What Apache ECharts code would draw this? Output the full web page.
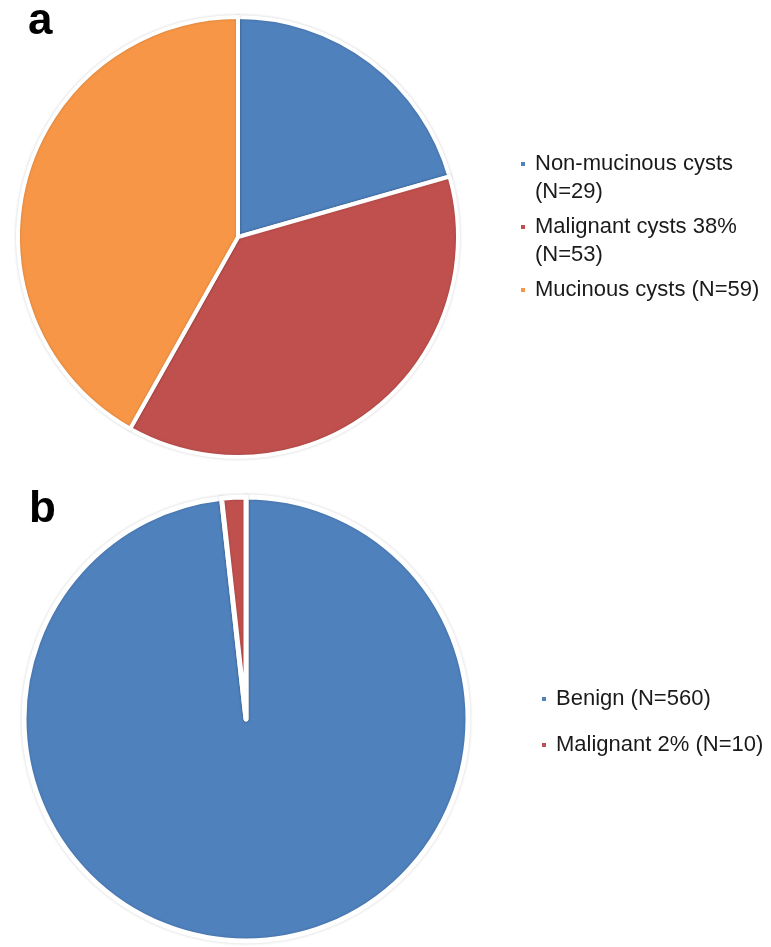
<!DOCTYPE html>
<html>
<head>
<meta charset="utf-8">
<script src="https://cdn.jsdelivr.net/npm/echarts@6/dist/echarts.min.js"></script>
<style>
html,body{margin:0;padding:0;background:#fff;}
#chart{width:771px;height:947px;}
</style>
</head>
<body>
<div id="chart"></div>
<script>
// Panel a
const categoriesA = ['Non-mucinous cysts\n(N=29)', 'Malignant cysts 38%\n(N=53)', 'Mucinous cysts (N=59)'];
const valuesA = [29, 53, 59];
const colorsA = ['#4F81BD', '#C0504D', '#F79646'];
// Panel b
const categoriesB = ['Benign (N=560)', 'Malignant 2% (N=10)'];
const valuesB = [560, 10];
const colorsB = ['#4F81BD', '#C0504D'];
const panelLabels = ['a', 'b'];

const FONT = '"Liberation Sans", Arial, Helvetica, sans-serif';

function makeRich(colors) {
  const rich = {
    g: { width: 10 },
    p: { width: 14 },
    t: { fontSize: 22, lineHeight: 28, color: '#1a1a1a', fontFamily: FONT }
  };
  colors.forEach((c, i) => { rich['m' + i] = { width: 4, height: 4, backgroundColor: c }; });
  return rich;
}
function makeFormatter(cats) {
  return function (name) {
    const idx = cats.indexOf(name);
    return name.split('\n').map((l, i) =>
      i === 0 ? '{m' + idx + '|}{g|}{t|' + l + '}' : '{p|}{t|' + l + '}'
    ).join('\n');
  };
}

const pieStyle = (bw) => ({
  borderColor: '#fff', borderWidth: bw,
  shadowBlur: 3, shadowColor: 'rgba(0,0,0,0.18)'
});

const chart = echarts.init(document.getElementById('chart'), null, { renderer: 'canvas' });
chart.setOption({
  animation: false,
  backgroundColor: '#fff',
  title: [
    { text: panelLabels[0], left: 28, top: 0, padding: 0,
      textStyle: { fontSize: 44, fontWeight: 'bold', lineHeight: 44, color: '#000', fontFamily: FONT } },
    { text: panelLabels[1], left: 29, top: 488, padding: 0,
      textStyle: { fontSize: 44, fontWeight: 'bold', lineHeight: 44, color: '#000', fontFamily: FONT } }
  ],
  legend: [
    { orient: 'vertical', left: 516, top: 153, padding: 0, itemGap: 13,
      icon: 'none', itemWidth: 0, itemHeight: 4,
      data: categoriesA, selectedMode: false,
      formatter: makeFormatter(categoriesA),
      textStyle: { rich: makeRich(colorsA) } },
    { orient: 'vertical', left: 537, top: 688, padding: 0, itemGap: 24,
      icon: 'none', itemWidth: 0, itemHeight: 4,
      data: categoriesB, selectedMode: false,
      formatter: makeFormatter(categoriesB),
      textStyle: { rich: makeRich(colorsB) } }
  ],
  series: [
    { type: 'pie', center: [238, 237], radius: 220, startAngle: 90, clockwise: true,
      label: { show: false }, labelLine: { show: false }, silent: true,
      itemStyle: pieStyle(4),
      emphasis: { disabled: true },
      data: categoriesA.map((n, i) => ({ name: n, value: valuesA[i], itemStyle: { color: colorsA[i] } })) },
    { type: 'pie', center: [246, 719], radius: 222, startAngle: 90, clockwise: true,
      label: { show: false }, labelLine: { show: false }, silent: true,
      itemStyle: pieStyle(5),
      emphasis: { disabled: true },
      data: categoriesB.map((n, i) => ({ name: n, value: valuesB[i], itemStyle: { color: colorsB[i] } })) }
  ]
});
</script>
</body>
</html>
